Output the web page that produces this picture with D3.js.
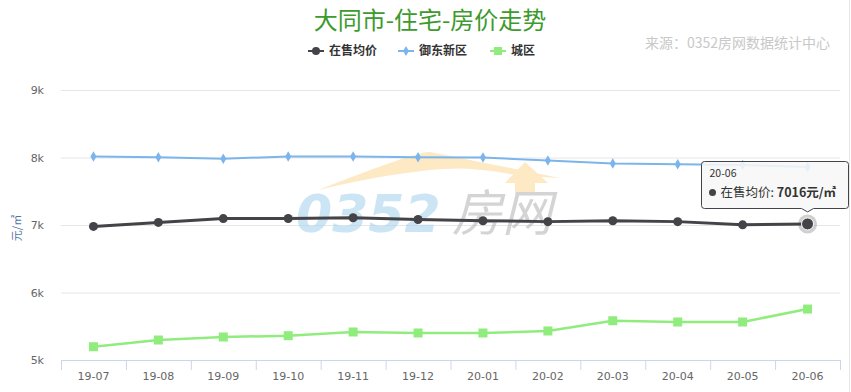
<!DOCTYPE html>
<html><head><meta charset="utf-8">
<script src="https://cdn.jsdelivr.net/npm/d3@7/dist/d3.min.js"></script>
<style>body{margin:0;background:#fff;}svg{font-family:"Microsoft YaHei","Noto Sans CJK SC","DejaVu Sans",sans-serif;}</style>
</head><body>
<svg id="c" width="851" height="392"></svg>
<script>
const categories = ["19-07","19-08","19-09","19-10","19-11","19-12","20-01","20-02","20-03","20-04","20-05","20-06"];
const avgPrice = [6979,7038,7095,7097,7107,7082,7063,7050,7063,7050,7002,7016];
const yudong = [8015,8003,7983,8015,8015,8005,8000,7955,7910,7900,7890,7860];
const chengqu = [5197,5296,5341,5360,5415,5400,5400,5430,5582,5563,5563,5755];
const yTicks = [5000,6000,7000,8000,9000];
const seriesNames = ["在售均价","御东新区","城区"];
const seriesColors = ["#434348","#7cb5ec","#90ed7d"];

const svg = d3.select("#c");
const m = {l:61, r:840, t:90, b:360};
const x = d3.scaleBand().domain(categories).range([m.l, m.r]);
const y = d3.scaleLinear().domain([5000,9000]).range([m.b, m.t]);
const cx = d => x(d) + x.bandwidth()/2;

// right border
svg.append("line").attr("x1",849.5).attr("x2",849.5).attr("y1",0).attr("y2",392).attr("stroke","#e6e6e6");

// title
svg.append("text").attr("x",430).attr("y",29).attr("text-anchor","middle")
  .attr("font-size",24).attr("fill","#3d9a2d").text("大同市-住宅-房价走势");
svg.append("text").attr("x",830).attr("y",48).attr("text-anchor","end")
  .attr("font-size",14).attr("fill","#c8c8c8").text("来源：0352房网数据统计中心");

// legend
const legX = [308, 398, 490];
seriesNames.forEach((n,i)=>{
  const g = svg.append("g").attr("transform",`translate(${legX[i]},51)`);
  g.append("line").attr("x1",0).attr("x2",16).attr("stroke",seriesColors[i]).attr("stroke-width",2);
  if(i===0) g.append("circle").attr("cx",8).attr("r",4).attr("fill",seriesColors[i]);
  if(i===1) g.append("path").attr("d",d3.symbol(d3.symbolDiamond,30)()).attr("transform","translate(8,0)").attr("fill",seriesColors[i]);
  if(i===2) g.append("rect").attr("x",4).attr("y",-4).attr("width",8).attr("height",8).attr("fill",seriesColors[i]);
  g.append("text").attr("x",21).attr("y",4).attr("font-size",12).attr("font-weight","bold").attr("fill","#333").text(n);
});

// grid
svg.append("g").selectAll("line").data(yTicks.filter(t=>t>5000)).join("line")
  .attr("x1",m.l).attr("x2",m.r).attr("y1",d=>y(d)+0.5).attr("y2",d=>y(d)+0.5)
  .attr("stroke","#e6e6e6");

// y axis labels
const ya = svg.append("g").attr("transform",`translate(${m.l-14},0)`)
  .call(d3.axisLeft(y).tickValues(yTicks).tickSize(0).tickFormat(d=>d/1000+"k"));
ya.select(".domain").remove();
ya.selectAll("text").attr("font-size",11).attr("fill","#666").attr("font-family","Verdana,'DejaVu Sans',sans-serif").attr("dx",0);
svg.append("text").attr("transform",`translate(21,${(m.t+m.b)/2+3}) rotate(-90)`)
  .attr("text-anchor","middle").attr("font-size",11).attr("fill","#4d759e").text("元/㎡");

// x axis
const xa = svg.append("g").attr("transform",`translate(0,${m.b+0.5})`)
  .call(d3.axisBottom(x).tickSize(0).tickPadding(12));
xa.select(".domain").attr("stroke","#ccd6eb").attr("d",`M${m.l},0H${m.r}`);
xa.selectAll("text").attr("font-size",11).attr("fill","#666").attr("font-family","Verdana,'DejaVu Sans',sans-serif");
svg.append("g").selectAll("line").data(categories.concat(["__end"])).join("line")
  .attr("x1",(d,i)=> (i<categories.length? x(d): m.r)+0.5)
  .attr("x2",(d,i)=> (i<categories.length? x(d): m.r)+0.5)
  .attr("y1",m.b).attr("y2",m.b+10).attr("stroke","#ccd6eb");

// watermark
const wm = svg.append("g").attr("opacity",0.6);
wm.append("path").attr("d","M318,190 Q420,150 430,152 L560,178 L520,176 Q470,165 430,170 Q380,175 318,190 Z").attr("fill","#fddb9e");
wm.append("path").attr("d","M505,183 L525,162 L548,183 L535,183 L535,195 L515,195 L515,183 Z").attr("fill","#fddb9e");
wm.append("text").attr("x",296).attr("y",232).attr("font-size",52).attr("font-style","italic").attr("font-weight","bold")
  .attr("fill","#a9d4ee").attr("font-family","'DejaVu Sans',sans-serif").text("0352");
wm.append("text").attr("x",452).attr("y",231).attr("font-size",50).attr("font-style","italic")
  .attr("fill","#b8b8b8").text("房网");

// series
const line = d3.line().x((d,i)=>cx(categories[i])).y(d=>y(d));
const data = [avgPrice, yudong, chengqu];
const widths = [3, 2, 2.5];
[2,1,0].forEach(s=>{
  svg.append("path").datum(data[s]).attr("d",line).attr("fill","none")
    .attr("stroke",seriesColors[s]).attr("stroke-width",widths[s]).attr("stroke-linejoin","round");
  const g = svg.append("g");
  data[s].forEach((v,i)=>{
    const px = cx(categories[i]), py = y(v);
    if(s===0){
      if(i===categories.length-1){
        g.append("circle").attr("cx",px).attr("cy",py).attr("r",9.5).attr("fill","#434348").attr("opacity",0.25);
        g.append("circle").attr("cx",px).attr("cy",py).attr("r",6).attr("fill","#434348").attr("stroke","#fff").attr("stroke-width",1);
      } else g.append("circle").attr("cx",px).attr("cy",py).attr("r",4.5).attr("fill","#434348");
    } else if(s===1){
      g.append("path").attr("d",d3.symbol(d3.symbolDiamond,32)()).attr("transform",`translate(${px},${py})`).attr("fill",seriesColors[s]);
    } else {
      g.append("rect").attr("x",px-4.5).attr("y",py-4.5).attr("width",9).attr("height",9).attr("fill",seriesColors[s]);
    }
  });
});

// tooltip
const li = categories.length-1;
const tpx = cx(categories[li]), tpy = y(avgPrice[li]);
const bx = 701.5, by = 161.5, bw = 147, bh = 47, tipY = tpy - 12;
const tt = svg.append("g");
tt.append("path").attr("d",
  `M${bx+3},${by} H${bx+bw-3} Q${bx+bw},${by} ${bx+bw},${by+3} V${by+bh-3} Q${bx+bw},${by+bh} ${bx+bw-3},${by+bh}
   H${tpx+6} L${tpx},${tipY} L${tpx-6},${by+bh} H${bx+3} Q${bx},${by+bh} ${bx},${by+bh-3} V${by+3} Q${bx},${by} ${bx+3},${by} Z`)
  .attr("fill","rgba(247,247,247,0.88)").attr("stroke","#434348").attr("stroke-width",1);
tt.append("text").attr("x",bx+8).attr("y",by+15).attr("font-size",10.5).attr("fill","#333").text(categories[li]);
tt.append("circle").attr("cx",bx+11).attr("cy",by+31).attr("r",3.5).attr("fill","#434348");
const t2 = tt.append("text").attr("x",bx+19).attr("y",by+35).attr("font-size",12.5).attr("fill","#333");
t2.append("tspan").text(seriesNames[0]+": ");
t2.append("tspan").attr("font-weight","bold").text(avgPrice[li]+"元/㎡");
</script>
</body></html>
